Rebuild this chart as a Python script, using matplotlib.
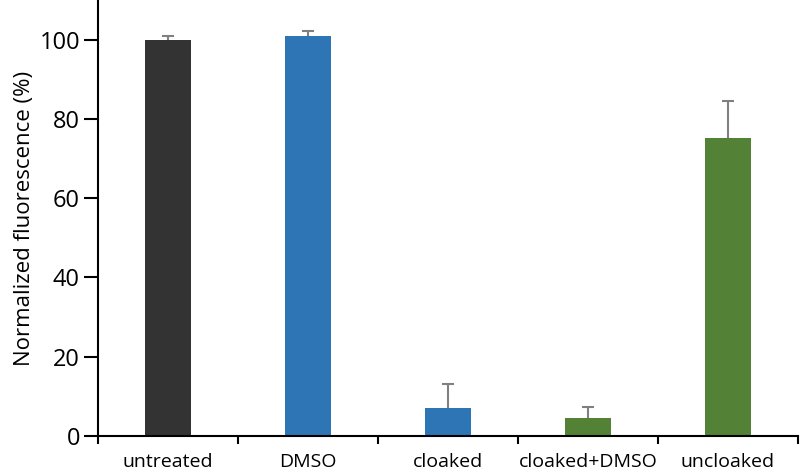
import matplotlib
matplotlib.use("Agg")
import matplotlib.pyplot as plt
import numpy as np

categories = ["untreated", "DMSO", "cloaked", "cloaked+DMSO", "uncloaked"]
values = [100.0, 101.0, 7.0, 4.5, 75.3]
errors = [0.8, 1.3, 6.0, 2.8, 9.2]
colors = ["#333333", "#2E75B6", "#2E75B6", "#538135", "#538135"]
yticks = [0, 20, 40, 60, 80, 100]

plt.rcParams['font.family'] = ['Open Sans', 'DejaVu Sans']

fig = plt.figure(figsize=(8, 4.72), dpi=100)
ax = fig.add_axes([0.1225, 0.0763, 0.875, 0.9237])

x = np.arange(len(categories))
ax.bar(x, values, width=0.33, color=colors, zorder=2)
eb = ax.errorbar(x, values, yerr=[np.zeros(len(errors)), errors], fmt='none',
                 ecolor="#808080", elinewidth=1.5, capsize=4, capthick=1.5, zorder=3)
eb[1][0].set_visible(False)

ax.set_xlim(-0.5, len(categories) - 0.5)
ax.set_ylim(0, 110)
ax.set_yticks(yticks)
ax.set_yticklabels([str(t) for t in yticks], fontsize=17)
ax.set_xticks(x)
ax.set_xticklabels(categories, fontsize=14)
ax.tick_params(axis='x', length=0, pad=12)
ax.set_xticks(np.arange(-0.5, len(categories)), minor=True)
ax.tick_params(axis='x', which='minor', length=6, width=1.5, direction='out')
ax.tick_params(axis='y', length=10, width=1.5, direction='out', pad=3)

for s in ['top', 'right']:
    ax.spines[s].set_visible(False)
for s in ['left', 'bottom']:
    ax.spines[s].set_linewidth(1.5)

ax.set_ylabel("Normalized fluorescence (%)", fontsize=16, labelpad=3)

fig.savefig("out.png", dpi=100)
